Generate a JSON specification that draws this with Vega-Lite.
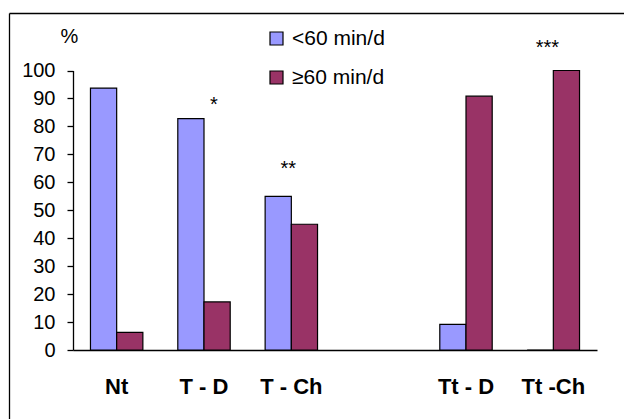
{
  "$schema": "https://vega.github.io/schema/vega-lite/v6.json",
  "width": 615,
  "height": 406,
  "autosize": {"type": "none"},
  "padding": {"left": 9, "top": 13, "right": 0, "bottom": 0},
  "background": "white",
  "config": {
    "font": "Liberation Sans",
    "view": {"stroke": null}
  },
  "datasets": {
    "bars": [
      {"cat": "Nt", "group": "<60 min/d", "value": 93.7},
      {"cat": "Nt", "group": "≥60 min/d", "value": 6.3},
      {"cat": "T - D", "group": "<60 min/d", "value": 82.8},
      {"cat": "T - D", "group": "≥60 min/d", "value": 17.2},
      {"cat": "T - Ch", "group": "<60 min/d", "value": 55},
      {"cat": "T - Ch", "group": "≥60 min/d", "value": 45},
      {"cat": "Tt - D", "group": "<60 min/d", "value": 9.2},
      {"cat": "Tt - D", "group": "≥60 min/d", "value": 90.8},
      {"cat": "Tt -Ch", "group": "<60 min/d", "value": 0},
      {"cat": "Tt -Ch", "group": "≥60 min/d", "value": 100}
    ],
    "notes": [
      {"cat": "T - D", "label": "*", "value": 85.5},
      {"cat": "T - Ch", "label": "**", "value": 62.5},
      {"cat": "Tt -Ch", "label": "***", "value": 106}
    ]
  },
  "resolve": {"scale": {"x": "independent", "y": "independent"}, "axis": {"x": "independent", "y": "independent"}},
  "layer": [
    {
      "data": {"name": "bars"},
      "mark": {"type": "point", "opacity": 0},
      "encoding": {
        "x": {
          "datum": 0,
          "type": "quantitative",
          "scale": {"domain": [0, 1], "range": [0, 640], "nice": false, "zero": false},
          "axis": {"orient": "top", "offset": 0, "title": null, "labels": false, "ticks": false, "grid": false, "domainColor": "black", "domainWidth": 1.3}
        },
        "y": {
          "datum": 0,
          "type": "quantitative",
          "scale": {"domain": [0, 1], "range": [0, 420], "nice": false, "zero": false},
          "axis": {"orient": "left", "offset": 0, "title": null, "labels": false, "ticks": false, "grid": false, "domainColor": "black", "domainWidth": 1.3}
        }
      }
    },
    {
      "resolve": {"scale": {"x": "shared", "y": "shared"}},
      "encoding": {
        "x": {
          "field": "cat",
          "type": "nominal",
          "sort": null,
          "scale": {
            "domain": ["Nt", "T - D", "T - Ch", " ", "Tt - D", "Tt -Ch"],
            "range": [64, 588],
            "paddingInner": 0.4,
            "paddingOuter": 0.2
          },
          "axis": {
            "title": null,
            "orient": "bottom",
            "offset": -69,
            "ticks": false,
            "labelAngle": 0,
            "labelFont": "Liberation Sans",
            "labelFontSize": 22,
            "labelFontWeight": "bold",
            "labelColor": "black",
            "labelPadding": 26,
            "domainColor": "black",
            "domainWidth": 1.3,
            "grid": false
          }
        },
        "y": {
          "field": "value",
          "type": "quantitative",
          "scale": {"domain": [0, 100], "range": [337, 57.5], "nice": false, "zero": false},
          "axis": {
            "title": "%",
            "titleAngle": 0,
            "titleAlign": "center",
            "titleBaseline": "alphabetic",
            "titleX": -4,
            "titleY": 29,
            "titleFont": "Liberation Sans",
            "titleFontSize": 20,
            "titleFontWeight": "normal",
            "titleColor": "black",
            "orient": "left",
            "offset": -64,
            "values": [0, 10, 20, 30, 40, 50, 60, 70, 80, 90, 100],
            "tickSize": 6,
            "tickColor": "black",
            "tickWidth": 1.3,
            "labelFontSize": 20,
            "labelColor": "black",
            "labelPadding": 12,
            "domainColor": "black",
            "domainWidth": 1.3,
            "grid": false
          }
        }
      },
      "layer": [
        {
          "data": {"name": "bars"},
          "mark": {"type": "bar", "stroke": "black", "strokeWidth": 1.2},
          "encoding": {
            "xOffset": {
              "field": "group",
              "type": "nominal",
              "scale": {"domain": ["<60 min/d", "≥60 min/d"], "paddingInner": 0, "paddingOuter": 0}
            },
            "color": {
              "field": "group",
              "type": "nominal",
              "scale": {"domain": ["<60 min/d", "≥60 min/d"], "range": ["#9999FF", "#993366"]},
              "legend": {
                "title": null,
                "orient": "none",
                "legendX": 257,
                "legendY": 15,
                "symbolType": "square",
                "symbolSize": 169,
                "symbolStrokeColor": "black",
                "symbolStrokeWidth": 1.2,
                "symbolOpacity": 1,
                "labelFontSize": 21,
                "labelColor": "black",
                "labelOffset": 5,
                "rowPadding": 17,
                "padding": 0
              }
            }
          }
        },
        {
          "data": {"name": "notes"},
          "transform": [{"filter": "datum.label == '*'"}],
          "mark": {"type": "text", "fontSize": 20, "color": "black", "dx": 10, "baseline": "alphabetic"},
          "encoding": {"text": {"field": "label"}}
        },
        {
          "data": {"name": "notes"},
          "transform": [{"filter": "datum.label == '**'"}],
          "mark": {"type": "text", "fontSize": 20, "color": "black", "dx": -3, "baseline": "alphabetic"},
          "encoding": {"text": {"field": "label"}}
        },
        {
          "data": {"name": "notes"},
          "transform": [{"filter": "datum.label == '***'"}],
          "mark": {"type": "text", "fontSize": 20, "color": "black", "dx": -6, "baseline": "alphabetic"},
          "encoding": {"text": {"field": "label"}}
        }
      ]
    }
  ]
}
